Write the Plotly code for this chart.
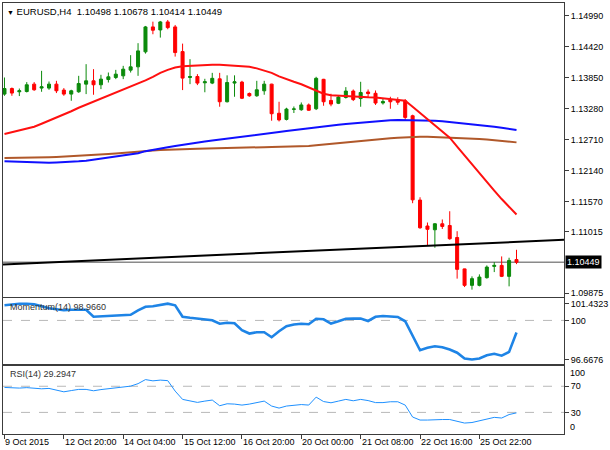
import plotly.graph_objects as go
from plotly.subplots import make_subplots

# H4 bars, index 0 = first visible bar
bars = list(range(70))

opens = [1.13549, 1.13652, 1.13592, 1.13597, 1.13733, 1.13660, 1.13660, 1.13733, 1.13623, 1.13549,
         1.13592, 1.13733, 1.13794, 1.13721, 1.13818, 1.13855, 1.13886, 1.13991, 1.14052, 1.14328,
         1.14788, 1.14732, 1.14880, 1.14788, 1.14333, 1.13855, 1.13873, 1.13757, 1.13752, 1.13831,
         1.13408, 1.13752, 1.13770, 1.13560, 1.13518, 1.13610, 1.13733, 1.13196, 1.13082, 1.13268,
         1.13261, 1.13349, 1.13279, 1.13822, 1.13432, 1.13380, 1.13487, 1.13605, 1.13467, 1.13588,
         1.13564, 1.13386, 1.13445, 1.13445, 1.13426, 1.13150, 1.11595, 1.11117, 1.11047, 1.11158,
         1.11126, 1.10905, 1.10326, 1.10022, 1.10022, 1.10164, 1.10372, 1.10390, 1.10188, 1.10498]
highs = [1.13855, 1.13671, 1.13652, 1.13770, 1.13770, 1.13978, 1.13781, 1.13794, 1.13660, 1.13629,
         1.13886, 1.14101, 1.14009, 1.13905, 1.13947, 1.13996, 1.14070, 1.14267, 1.14488, 1.14806,
         1.14885, 1.14898, 1.14916, 1.14824, 1.14480, 1.14193, 1.13917, 1.13831, 1.13941, 1.13941,
         1.13895, 1.13895, 1.13794, 1.13579, 1.13794, 1.13794, 1.13740, 1.13408, 1.13297, 1.13321,
         1.13395, 1.13376, 1.13868, 1.13830, 1.13555, 1.13518, 1.13678, 1.13634, 1.13776, 1.13634,
         1.13616, 1.13463, 1.13500, 1.13491, 1.13457, 1.13169, 1.11647, 1.11181, 1.11169, 1.11237,
         1.11389, 1.11021, 1.10330, 1.10188, 1.10225, 1.10390, 1.10451, 1.10556, 1.10532, 1.10678]
lows = [1.13518, 1.13518, 1.13513, 1.13579, 1.13610, 1.13592, 1.13629, 1.13568, 1.13518, 1.13426,
        1.13573, 1.13549, 1.13537, 1.13641, 1.13763, 1.13825, 1.13825, 1.13947, 1.13886, 1.14296,
        1.14653, 1.14591, 1.14745, 1.14241, 1.13623, 1.13733, 1.13715, 1.13583, 1.13733, 1.13316,
        1.13395, 1.13500, 1.13457, 1.13500, 1.13500, 1.13537, 1.13058, 1.13045, 1.13064, 1.13200,
        1.13242, 1.13242, 1.13255, 1.13334, 1.13325, 1.13365, 1.13467, 1.13421, 1.13316, 1.13487,
        1.13349, 1.13356, 1.13279, 1.13352, 1.13058, 1.11537, 1.11066, 1.10758, 1.10716, 1.11062,
        1.10863, 1.10146, 1.09991, 1.09943, 1.10004, 1.10146, 1.10267, 1.10175, 1.10004, 1.10414]
closes = [1.13652, 1.13568, 1.13610, 1.13721, 1.13629, 1.13684, 1.13733, 1.13610, 1.13549, 1.13610,
          1.13744, 1.13794, 1.13721, 1.13825, 1.13868, 1.13917, 1.14009, 1.14052, 1.14346, 1.14788,
          1.14727, 1.14880, 1.14775, 1.14315, 1.13844, 1.13873, 1.13752, 1.13776, 1.13840, 1.13408,
          1.13763, 1.13776, 1.13472, 1.13518, 1.13629, 1.13733, 1.13187, 1.13073, 1.13273, 1.13275,
          1.13349, 1.13251, 1.13840, 1.13408, 1.13365, 1.13494, 1.13605, 1.13448, 1.13579, 1.13559,
          1.13384, 1.13411, 1.13408, 1.13399, 1.13119, 1.11599, 1.11084, 1.11056, 1.11158, 1.11108,
          1.10882, 1.10317, 1.10022, 1.10146, 1.10175, 1.10359, 1.10390, 1.10188, 1.10482, 1.10449]

ma_red = [1.12813, 1.12847, 1.12874, 1.12911, 1.12948, 1.13003, 1.13058, 1.13113, 1.13169, 1.13233,
          1.13297, 1.13353, 1.13408, 1.13463, 1.13518, 1.13573, 1.13629, 1.13684, 1.13739, 1.13803,
          1.13868, 1.13941, 1.13996, 1.14039, 1.14061, 1.14070, 1.14079, 1.14088, 1.14088, 1.14088,
          1.14079, 1.14070, 1.14061, 1.14052, 1.14024, 1.13987, 1.13941, 1.13877, 1.13822, 1.13776,
          1.13730, 1.13675, 1.13610, 1.13555, 1.13527, 1.13518, 1.13509, 1.13500, 1.13494, 1.13491,
          1.13487, 1.13472, 1.13457, 1.13445, 1.13426, 1.13316, 1.13205, 1.13086, 1.12966, 1.12856,
          1.12745, 1.12580, 1.12414, 1.12249, 1.12083, 1.11917, 1.11770, 1.11614, 1.11467, 1.11329]
ma_blue = [1.12309, 1.12304, 1.12295, 1.12289, 1.12285, 1.12285, 1.12285, 1.12289, 1.12291, 1.12298,
           1.12309, 1.12322, 1.12341, 1.12355, 1.12372, 1.12390, 1.12410, 1.12433, 1.12460, 1.12497,
           1.12525, 1.12547, 1.12569, 1.12593, 1.12617, 1.12639, 1.12659, 1.12677, 1.12694, 1.12710,
           1.12727, 1.12745, 1.12764, 1.12782, 1.12797, 1.12813, 1.12832, 1.12850, 1.12869, 1.12887,
           1.12902, 1.12920, 1.12937, 1.12953, 1.12970, 1.12985, 1.12999, 1.13012, 1.13025, 1.13036,
           1.13047, 1.13058, 1.13067, 1.13071, 1.13071, 1.13071, 1.13069, 1.13066, 1.13058, 1.13049,
           1.13036, 1.13018, 1.13003, 1.12990, 1.12977, 1.12962, 1.12948, 1.12929, 1.12907, 1.12887]
ma_brown = [1.12372, 1.12372, 1.12374, 1.12376, 1.12377, 1.12381, 1.12385, 1.12390, 1.12396, 1.12403,
            1.12410, 1.12418, 1.12427, 1.12436, 1.12445, 1.12456, 1.12469, 1.12480, 1.12491, 1.12501,
            1.12510, 1.12517, 1.12525, 1.12528, 1.12532, 1.12537, 1.12543, 1.12547, 1.12552, 1.12558,
            1.12561, 1.12563, 1.12565, 1.12567, 1.12569, 1.12570, 1.12572, 1.12574, 1.12576, 1.12580,
            1.12583, 1.12594, 1.12607, 1.12620, 1.12635, 1.12650, 1.12664, 1.12679, 1.12694, 1.12705,
            1.12716, 1.12727, 1.12736, 1.12745, 1.12753, 1.12758, 1.12762, 1.12762, 1.12758, 1.12755,
            1.12749, 1.12744, 1.12738, 1.12731, 1.12723, 1.12714, 1.12703, 1.12690, 1.12675, 1.12659]

# hand-drawn trendline (start / end)
trend_x = [-0.2, 75.4]
trend_y = [1.10409, 1.10863]

momentum = [101.287, 101.373, 101.415, 101.415, 101.373, 101.203, 101.032, 100.947, 100.862, 100.905,
            100.905, 100.905, 100.309, 100.352, 100.352, 100.394, 100.437, 100.479, 100.862, 101.160,
            101.203, 101.288, 101.4323, 101.288, 100.309, 100.224, 100.156, 100.096, 100.011, 99.713,
            99.798, 99.756, 99.160, 98.879, 98.990, 98.990, 98.564, 99.075, 99.500, 99.645,
            99.713, 99.671, 100.139, 100.096, 99.730, 99.926, 100.139, 100.156, 100.156, 99.951,
            100.309, 100.377, 100.352, 100.292, 99.926, 98.735, 97.458, 97.671, 97.798, 97.713,
            97.518, 97.245, 96.752, 96.6676, 96.752, 97.032, 97.160, 96.990, 97.313, 98.966]
rsi = [68.2, 67.2, 67.2, 67.9, 67.2, 66.1, 66.7, 64.1, 61.5, 63.4,
       65.2, 65.2, 63.1, 64.9, 66.1, 67.2, 67.9, 70.2, 74.0, 80.2,
       78.3, 79.4, 78.6, 62.6, 49.9, 47.3, 45.3, 47.3, 48.9, 40.2,
       43.2, 42.7, 41.2, 42.7, 45.0, 47.3, 39.7, 36.6, 39.7, 41.2,
       42.0, 41.2, 53.4, 46.6, 44.7, 47.3, 49.9, 47.8, 49.9, 48.1,
       45.0, 45.0, 46.3, 46.3, 41.2, 22.9, 18.3, 18.3, 19.1, 19.1,
       19.1, 16.0, 13.7, 14.5, 16.8, 19.8, 22.4, 21.4, 26.7, 29.2947]

price_ticks = [1.14990, 1.14420, 1.13850, 1.13280, 1.12710, 1.12140, 1.11570, 1.11015, 1.09875]
date_ticks = [0, 8, 16, 24, 32, 40, 48, 56, 64]
date_labels = ["9 Oct 2015", "12 Oct 20:00", "14 Oct 04:00", "15 Oct 12:00", "16 Oct 20:00",
               "20 Oct 00:00", "21 Oct 08:00", "22 Oct 16:00", "25 Oct 22:00"]

FONT = "Liberation Sans, Arial, sans-serif"
FRAME = "#3c3c3c"
UP = "#0b8a0b"
DOWN = "#ff0000"

fig = make_subplots(rows=3, cols=1, shared_xaxes=True)

fig.add_trace(go.Scatter(x=bars, y=ma_brown, mode="lines", line=dict(color="#b0582a", width=2)), row=1, col=1)
fig.add_trace(go.Scatter(x=bars, y=ma_blue, mode="lines", line=dict(color="#1010ff", width=2)), row=1, col=1)
fig.add_trace(go.Scatter(x=bars, y=ma_red, mode="lines", line=dict(color="#ff1010", width=2)), row=1, col=1)
fig.add_trace(go.Scatter(x=trend_x, y=trend_y, mode="lines", line=dict(color="black", width=2)), row=1, col=1)
fig.add_trace(go.Candlestick(
    x=bars, open=opens, high=highs, low=lows, close=closes,
    increasing=dict(line=dict(color=UP, width=1), fillcolor=UP),
    decreasing=dict(line=dict(color=DOWN, width=1), fillcolor=DOWN),
    whiskerwidth=0,
), row=1, col=1)

fig.add_trace(go.Scatter(x=bars, y=momentum, mode="lines", line=dict(color="#1e84e6", width=2.6)), row=2, col=1)
fig.add_trace(go.Scatter(x=bars, y=rsi, mode="lines", line=dict(color="#1e90ff", width=1)), row=3, col=1)

dash_grey = dict(color="#b8b8b8", width=1, dash="dash")
fig.add_shape(type="line", xref="x domain", yref="y", x0=0, x1=1, y0=closes[-1], y1=closes[-1],
              line=dict(color="#8a8a8a", width=1.6), layer="below")
fig.add_shape(type="line", xref="x2 domain", yref="y2", x0=0, x1=1, y0=100, y1=100, line=dash_grey, layer="below")
fig.add_shape(type="line", xref="x3 domain", yref="y3", x0=0, x1=1, y0=70, y1=70, line=dash_grey, layer="below")
fig.add_shape(type="line", xref="x3 domain", yref="y3", x0=0, x1=1, y0=30, y1=30, line=dash_grey, layer="below")

axis_common = dict(showline=True, linecolor=FRAME, linewidth=1, mirror=True, showgrid=False, zeroline=False)
fig.update_xaxes(range=[-0.2, 75.4], rangeslider_visible=False, **axis_common)
fig.update_xaxes(tickvals=date_ticks, ticktext=[""] * len(date_ticks), ticks="outside", ticklen=4,
                 tickcolor=FRAME, row=3, col=1)
fig.update_yaxes(side="right", ticks="outside", ticklen=4, tickcolor=FRAME, **axis_common)

fig.update_layout(
    width=610, height=450,
    margin=dict(l=2, r=41, t=2, b=16),
    paper_bgcolor="white", plot_bgcolor="white",
    showlegend=False,
    boxgap=0.42,
    font=dict(family=FONT, size=9, color="black"),
    yaxis=dict(domain=[0.3178, 1], range=[1.09807, 1.15229],
               tickvals=price_ticks, ticktext=["%.5f" % v for v in price_ticks]),
    yaxis2=dict(domain=[0.162, 0.3148], range=[96.268, 101.883],
                tickvals=[101.4323, 100, 96.6676], ticktext=["101.4323", "100", "96.6676"]),
    yaxis3=dict(domain=[0, 0.1574], range=[-3.05, 100.76],
                tickvals=[70, 30], ticktext=["70", "30"]),
)

# time labels start at their tick, as in the terminal
for t, lab in zip(date_ticks, date_labels):
    fig.add_annotation(xref="x3", yref="paper", x=t, y=0, xanchor="left", yanchor="top",
                       xshift=-1, yshift=-1, text=lab, showarrow=False, font=dict(size=9))

fig.add_annotation(xref="paper", yref="paper", x=0.004, y=0.981, xanchor="left", yanchor="middle",
                   text="<span style='font-size:7px'>▼</span> EURUSD,H4  1.10498 1.10678 1.10414 1.10449",
                   showarrow=False, font=dict(size=9.5))
fig.add_annotation(xref="paper", yref="y", x=1, y=closes[-1], xanchor="left", yanchor="middle", xshift=1,
                   text="1.10449", showarrow=False, bgcolor="black", borderpad=1,
                   font=dict(color="white", size=9))
fig.add_annotation(xref="paper", yref="paper", x=0.009, y=0.294, xanchor="left", yanchor="middle",
                   text="Momentum(14) 98.9660", showarrow=False, font=dict(size=9, color="#333333"))
fig.add_annotation(xref="paper", yref="paper", x=0.009, y=0.139, xanchor="left", yanchor="middle",
                   text="RSI(14) 29.2947", showarrow=False, font=dict(size=9, color="#333333"))
fig.add_annotation(xref="paper", yref="y3", x=1, y=100, xanchor="left", yanchor="middle", xshift=4, yshift=-6,
                   text="100", showarrow=False, font=dict(size=9))
fig.add_annotation(xref="paper", yref="y3", x=1, y=0, xanchor="left", yanchor="middle", xshift=4, yshift=5,
                   text="0", showarrow=False, font=dict(size=9))

# the page's default 8px body margin would push the chart off its 610x450 frame
fig.write_html("out.html", config={"displayModeBar": False},
               post_script="document.body.style.margin='0';")
